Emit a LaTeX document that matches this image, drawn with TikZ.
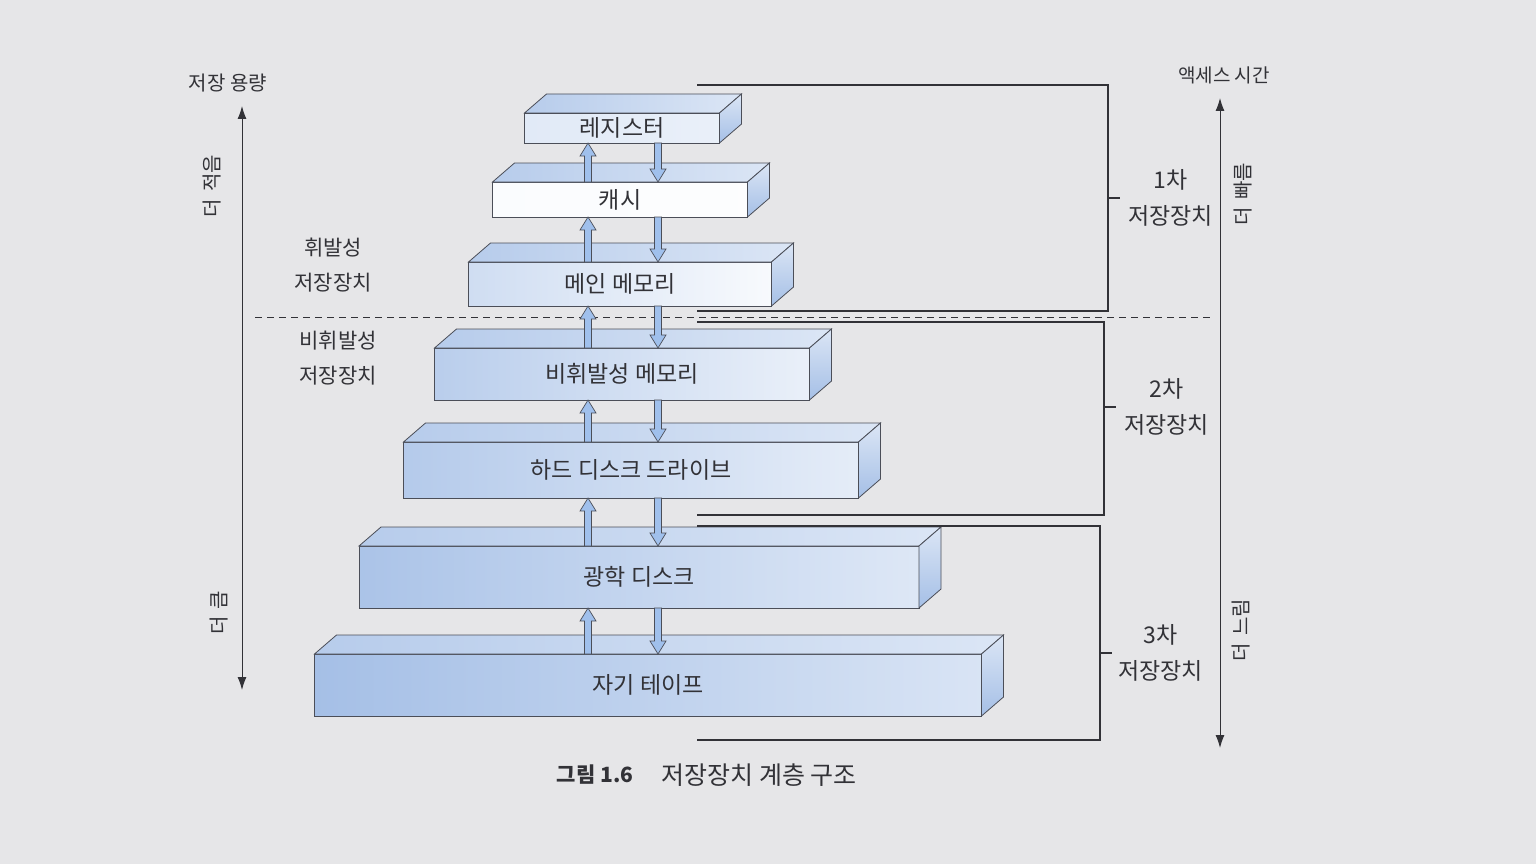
\documentclass[tikz,border=0pt]{standalone}
\usepackage{fontspec}
\setmainfont{Noto Sans CJK KR}
\usetikzlibrary{positioning,calc,arrows.meta}

\definecolor{pagegray}{RGB}{230,230,232}
\definecolor{inkgray}{RGB}{50,50,55}
\definecolor{edgegray}{RGB}{75,78,88}
\definecolor{boxblue}{RGB}{135,170,222}
\definecolor{arrowblue}{RGB}{160,192,236}

\tikzset{
  slab/.style 2 args={draw=edgegray, line width=0.8pt, inner sep=0pt, outer sep=0pt,
    left color=boxblue!#1!white, right color=boxblue!#2!white,
    text=inkgray, font=\fontsize{23}{26}\selectfont},
  topface/.style={draw=edgegray, line width=0.8pt, left color=boxblue!60!white, right color=boxblue!30!white},
  sideface/.style={draw=edgegray, line width=0.8pt, top color=boxblue!30!white, bottom color=boxblue!75!white},
  flow/.style={draw=edgegray, line width=0.7pt, fill=arrowblue},
  brace/.style={draw=inkgray, line width=1.3pt},
  divider/.style={draw=inkgray, line width=1pt, dash pattern=on 7pt off 5pt},
  axis/.style={draw=inkgray, line width=1pt, <->, >={Latex[length=13pt,width=9pt]}},
  lbl/.style={text=inkgray, align=center, inner sep=2pt, font=\fontsize{21}{35}\selectfont},
  vlbl/.style={text=inkgray, inner sep=1pt, rotate=90, font=\fontsize{20}{22}\selectfont},
}

% block arrow from #1 to #2
\newcommand\flowarrow[2]{%
  \path (#1) coordinate (fa) (#2) coordinate (fb) ($(fb)!13pt!(fa)$) coordinate (fc);
  \draw[flow] ($(fa)!3.5pt!90:(fb)$) -- ($(fc)!3.5pt!90:(fb)$) -- ($(fc)!8pt!90:(fb)$)
    -- (fb) -- ($(fc)!8pt!-90:(fb)$) -- ($(fc)!3.5pt!-90:(fb)$) -- ($(fa)!3.5pt!-90:(fb)$) -- cycle;
}

\begin{document}
\begin{tikzpicture}[x=1pt, y=-1pt]
  % Page
  \fill[pagegray] (0,0) rectangle (1536,864);
  \useasboundingbox (0,0) rectangle (1536,864);

  % Levels
  \node[slab={25}{18}, minimum width=195pt, minimum height=30pt] (reg) at (622,128) {레지스터};
  \node[slab={4}{2}, minimum width=255pt, minimum height=35pt, below=39pt of reg, xshift=-2pt] (cache) {캐시};
  \node[slab={40}{6}, minimum width=303pt, minimum height=44pt, below=45pt of cache] (mainmem) {메인 메모리};
  \node[slab={58}{18}, minimum width=375pt, minimum height=52pt, below=42pt of mainmem, xshift=2pt] (nvm) {비휘발성 메모리};
  \node[slab={62}{22}, minimum width=455pt, minimum height=56pt, below=42pt of nvm, xshift=9pt] (hdd) {하드 디스크 드라이브};
  \node[slab={70}{28}, minimum width=560pt, minimum height=62pt, below=48pt of hdd, xshift=8pt] (odisk) {광학 디스크};
  \node[slab={75}{32}, minimum width=667pt, minimum height=62pt, below=46pt of odisk, xshift=9pt] (tape) {자기 테이프};

  % Top and side faces
  \foreach \b in {reg,cache,mainmem,nvm,hdd,odisk,tape} {
    \draw[topface] (\b.north west) -- ++(22,-19) -- ([shift={(22,-19)}]\b.north east) -- (\b.north east) -- cycle;
    \draw[sideface] (\b.north east) -- ++(22,-19) -- ([shift={(22,-19)}]\b.south east) -- (\b.south east) -- cycle;
  }

  % Volatile / non-volatile border
  \draw[divider] (255,317) -- (1210,317);

  % Transfers
  \coordinate (upx) at (588,0);
  \coordinate (dnx) at (658,0);
  \foreach \hi/\lo in {reg/cache,cache/mainmem,mainmem/nvm,nvm/hdd,hdd/odisk,odisk/tape} {
    \flowarrow{\lo.north -| upx}{\hi.south -| upx}
    \flowarrow{\hi.south -| dnx}{\lo.north -| dnx}
  }

  % Brackets
  \draw[brace] (697,85) -| (1108,311) -- (697,311);
  \draw[brace] (1108,198) -- (1120,198) coordinate (t1);
  \node[lbl, font=\fontsize{23}{36}\selectfont, right=6pt of t1] (primary) {1차\\저장장치};
  \draw[brace] (697,322) -| (1104,515) -- (697,515);
  \draw[brace] (1104,407) -- (1116,407) coordinate (t2);
  \node[lbl, font=\fontsize{23}{36}\selectfont, right=6pt of t2] (secondary) {2차\\저장장치};
  \draw[brace] (697,526) -| (1100,740) -- (697,740);
  \draw[brace] (1100,653) -- (1112,653) coordinate (t3);
  \node[lbl, font=\fontsize{23}{36}\selectfont, right=4pt of t3] (tertiary) {3차\\저장장치};

  % Capacity axis
  \coordinate (capHi) at (242,106);
  \coordinate (capLo) at (242,690);
  \draw[axis] (capLo) -- (capHi);
  \node[lbl, font=\fontsize{20}{22}\selectfont, above=12pt of capHi, xshift=-14pt] (capacity) {저장 용량};
  \node[vlbl] (fewer) at (212,186) {더\hspace{0.35em}적음};
  \node[vlbl] (bigger) at (219,613) {더\hspace{0.35em}큼};
  \node[lbl] (volatile) at (333,265) {휘발성\\저장장치};
  \node[lbl] (nonvolatile) at (338,358) {비휘발성\\저장장치};

  % Access time axis
  \coordinate (accHi) at (1220,98);
  \coordinate (accLo) at (1220,748);
  \draw[axis] (accLo) -- (accHi);
  \node[lbl, font=\fontsize{19}{20}\selectfont, above=12pt of accHi, xshift=4pt] (access) {액세스 시간};
  \node[vlbl] (faster) at (1243,194) {더\hspace{0.35em}빠름};
  \node[vlbl] (slower) at (1241,630) {더\hspace{0.35em}느림};

  % Caption
  \node[text=inkgray, inner sep=2pt, font=\bfseries\fontsize{21}{24}\selectfont] (fignum) at (595,775) {그림 1.6};
  \node[lbl, font=\fontsize{25}{28}\selectfont, right=24pt of fignum] (figtitle) {저장장치 계층 구조};
\end{tikzpicture}
\end{document}
